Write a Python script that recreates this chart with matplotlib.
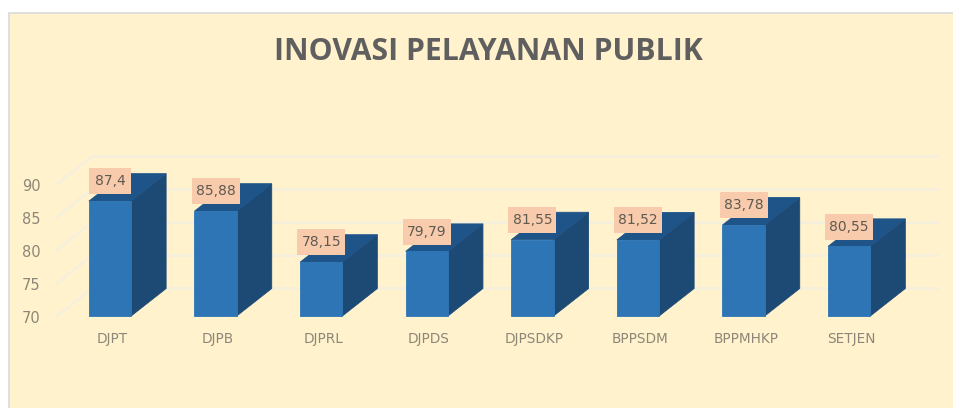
import matplotlib
matplotlib.use('Agg')
import matplotlib.pyplot as plt
from matplotlib.patches import Polygon, Rectangle

# Chart data
categories = ['DJPT', 'DJPB', 'DJPRL', 'DJPDS', 'DJPSDKP', 'BPPSDM', 'BPPMHKP', 'SETJEN']
values = [87.4, 85.88, 78.15, 79.79, 81.55, 81.52, 83.78, 80.55]
value_labels = ['87,4', '85,88', '78,15', '79,79', '81,55', '81,52', '83,78', '80,55']
y_ticks = [70, 75, 80, 85, 90]

# Pixel layout of the fake 3D chart
W, H = 954, 408
slot = 105.6
unit = 6.6
x0_px = 110
y0_px = 316
half = 0.2        # half bar width, in slots
dx = 35 / slot    # depth offset, in slots
dy = 27.5 / unit  # depth offset, in value units

plt.rcParams['font.family'] = ['DejaVu Sans']

fig = plt.figure(figsize=(W / 100, H / 100), dpi=100, facecolor='white')
ax = fig.add_axes([0, 0, 1, 1])
ax.set_xlim(-x0_px / slot, (W - x0_px) / slot)
ax.set_ylim(70 - (H - y0_px) / unit, 70 + y0_px / unit)
ax.axis('off')

# helpers to place things given in pixels
px_x = lambda p: (p - x0_px) / slot
px_y = lambda p: 70 + (y0_px - p) / unit

# panel, runs off the right and bottom of the image
ax.add_patch(Rectangle((px_x(8.5), px_y(420)), 960 / slot, 406.5 / unit,
                       facecolor='#FFF2CC', edgecolor='#D9D9D9', linewidth=1.2, zorder=0))

# gridlines: side wall diagonal and back wall
grid_color = '#F5EFDC'
left = px_x(57)
right = px_x(938)
for t in y_ticks:
    ax.plot([left, left + dx, right], [t, t + dy, t + dy], color=grid_color, linewidth=2, zorder=1)
    ax.text(px_x(31), t - 0.45, str(t), ha='center', va='center', fontsize=10.5, color='#8C8778', zorder=2)

# bars
for i, (v, lab, name) in enumerate(zip(values, value_labels, categories)):
    l, r = i - half, i + half
    ax.add_patch(Polygon([(r, 70), (r + dx, 70 + dy), (r + dx, v + dy), (r, v)],
                         facecolor='#1C4A75', edgecolor='#1C4A75', linewidth=0.6, zorder=3))
    ax.add_patch(Polygon([(l, v), (l + dx, v + dy), (r + dx, v + dy), (r, v)],
                         facecolor='#1F5488', edgecolor='#1F5488', linewidth=0.6, zorder=3))
    ax.add_patch(Rectangle((l, 70), r - l, v - 70, facecolor='#2E75B6',
                           edgecolor='#2E75B6', linewidth=0.6, zorder=4))
    # value label box sits above the front top edge
    box_w = (13 + 7 * len(lab)) / slot
    box_h = 26 / unit
    ax.add_patch(Rectangle((i - box_w / 2, v + 3 - box_h / 2), box_w, box_h,
                           facecolor='#F8CBAD', edgecolor='none', zorder=5))
    ax.text(i, v + 3, lab, ha='center', va='center', fontsize=10, color='#5F5A50', zorder=6)
    ax.text(i + 0.02, px_y(339), name, ha='center', va='center', fontsize=9.8, color='#8C8778', zorder=2)

ax.text(px_x(488), px_y(52), 'INOVASI PELAYANAN PUBLIK', ha='center', va='center',
        fontsize=21.7, fontweight='bold', family='Open Sans', color='#5F5F5F', zorder=2)

fig.savefig('out.png', dpi=100, facecolor='white')
